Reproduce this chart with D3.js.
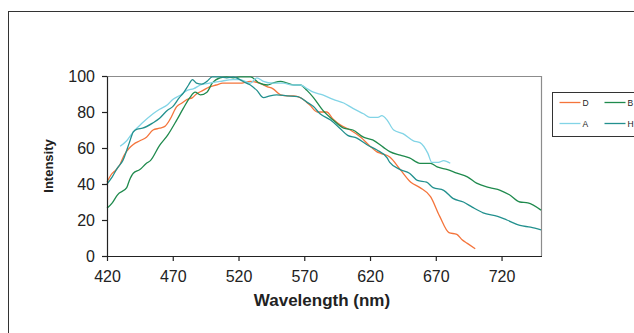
<!DOCTYPE html>
<html>
<head>
<meta charset="utf-8">
<script src="https://cdn.jsdelivr.net/npm/d3@7"></script>
<style>
  html, body { margin: 0; padding: 0; background: #fff; }
  svg { display: block; font-family: "Liberation Sans", Arial, sans-serif; }
</style>
</head>
<body>
<svg id="chart" width="634" height="333"></svg>
<script>
// Emission spectra: wavelength (nm) and relative intensity per sample
const seriesNames = ["D", "B", "A", "H"];
const seriesColors = ["#f4743b", "#1f8a4d", "#82d4e6", "#22908e"];

const wavelengthD = [420,423,427,430,433,437,440,445,450,455,460,464,468,473,477,481,485,488,493,498,503,508,515,521,529,536,542,546,552,557,562,567,574,580,587,592,597,605,613,620,625,628,635,643,651,658,666,673,680,686,690,694,700];
const intensityD  = [41,45,48,51,56,60,62,64,66,70,71,72,76,83,85,87,88,90,92,94,95,96,96,96,97,96,94,93,89.5,89,89,88,84,80,80,76,73,70,66,61,58,57,55,48,41,38,33,22,13,12,9,7,4];

const wavelengthB = [420,424,428,435,437,440,445,450,453,460,466,473,478,483,487,491,496,500,506,511,516,521,529,536,542,546,552,557,562,567,572,577,584,592,600,607,615,622,630,635,643,650,658,666,671,679,686,694,701,711,719,726,734,740,750];
const intensityB  = [26.5,29.5,34,38,42,46,48,51.5,53,61.5,67,75.5,82,88,91,89.5,91,96,99,99.5,99,99.5,99.5,96,95,96,97,96,95,95,92,88,81,75.5,71,70,66,64.5,60.5,58,56,54.5,51.5,51.5,49.5,48,46,44,40.5,38,36.5,34,30,29.5,25.5];

const wavelengthA = [430,435,440,447,455,460,466,470,475,481,486,491,498,506,516,521,529,534,539,546,554,561,567,572,577,584,592,600,607,615,620,626,629,633,638,645,653,658,664,667,672,676,681];
const intensityA  = [61,64,69,74,79,81.5,84,87,89,92,93,95,96,97,98,98,96,99,97,96,96,95,95,93,91,89.5,87,85,82,79,77,77,78,75.5,70,68,64,63,57,52,52,53,51.5];

const wavelengthH = [420,424,428,432,437,440,443,447,455,460,466,470,475,478,482,485,488,492,496,500,506,511,516,521,526,529,534,539,544,549,557,565,572,577,582,590,597,603,610,618,625,633,635,643,650,656,663,668,676,683,691,698,706,717,724,734,742,750];
const intensityH  = [40,44,49,53,63,69,70.5,71,74,76.5,81,83,88,90.5,95,98,96,95.5,97,99.5,99.5,99,99.5,98,96,95,92,88,89,89.5,89,88.5,85.5,83,79,75.5,71,67,65.5,61.7,59,54.5,52,48,46,42,41,38,36.5,32,30,27,24,22,20,17,16,14.5];

const xTicks = [420,470,520,570,620,670,720];
const yTicks = [0,20,40,60,80,100];

const seriesData = [
  { name: "D", x: wavelengthD, y: intensityD },
  { name: "B", x: wavelengthB, y: intensityB },
  { name: "A", x: wavelengthA, y: intensityA },
  { name: "H", x: wavelengthH, y: intensityH }
];

const svg = d3.select("#chart");
const plot = { left: 107, right: 541, top: 76, bottom: 256 };

const x = d3.scaleLinear().domain([420, 750]).range([plot.left, plot.right]);
const y = d3.scaleLinear().domain([0, 100]).range([plot.bottom, plot.top]);
const color = d3.scaleOrdinal().domain(seriesNames).range(seriesColors);

// Outer chart frame
svg.append("rect")
  .attr("x", 8.5).attr("y", 11.5)
  .attr("width", 700).attr("height", 400)
  .attr("fill", "none").attr("stroke", "#333").attr("stroke-width", 1);

// Plot area border (top and right in grey)
svg.append("path")
  .attr("d", `M${plot.left},${plot.top + 0.5}H${plot.right + 0.5}V${plot.bottom}`)
  .attr("fill", "none").attr("stroke", "#8c8c8c").attr("stroke-width", 1.2);

// Series lines
const line = d3.line()
  .x(d => x(d[0]))
  .y(d => y(d[1]))
  .curve(d3.curveMonotoneX);

svg.append("g").selectAll("path")
  .data(seriesData)
  .join("path")
  .attr("d", s => line(s.x.map((v, i) => [v, s.y[i]])))
  .attr("fill", "none")
  .attr("stroke", s => color(s.name))
  .attr("stroke-width", 1.3)
  .attr("stroke-linejoin", "round");

// Axes
const xAxis = d3.axisBottom(x).tickValues(xTicks).tickSize(5).tickSizeOuter(0).tickPadding(10);
const yAxis = d3.axisLeft(y).tickValues(yTicks).tickSize(5).tickSizeOuter(0).tickPadding(7);

const gx = svg.append("g").attr("transform", `translate(0,${plot.bottom})`).call(xAxis);
const gy = svg.append("g").attr("transform", `translate(${plot.left},0)`).call(yAxis);

[gx, gy].forEach(g => {
  g.select(".domain").attr("stroke", "#222").attr("stroke-width", 1.2);
  g.selectAll(".tick line").attr("stroke", "#222").attr("stroke-width", 1.2);
  g.selectAll(".tick text")
    .attr("fill", "#222")
    .style("font-family", "'Liberation Sans', Arial, sans-serif")
    .style("font-size", "16px");
});
gx.select(".domain").attr("d", `M${plot.left},0.5H${plot.right + 1}`);

// Axis titles
svg.append("text")
  .attr("x", 322).attr("y", 306)
  .attr("text-anchor", "middle")
  .style("font-size", "17px").style("font-weight", "bold")
  .attr("fill", "#222")
  .text("Wavelength (nm)");

svg.append("text")
  .attr("transform", "translate(53,166) rotate(-90)")
  .attr("text-anchor", "middle")
  .style("font-size", "13px").style("font-weight", "bold")
  .attr("fill", "#222")
  .text("Intensity");

// Legend
const legend = svg.append("g").attr("transform", "translate(552.5,92.5)");
legend.append("rect")
  .attr("width", 120).attr("height", 44)
  .attr("fill", "#fff").attr("stroke", "#333").attr("stroke-width", 1);

const items = legend.selectAll("g.item")
  .data(seriesNames)
  .join("g")
  .attr("class", "item")
  .attr("transform", (d, i) => `translate(${7 + (i % 2) * 45},${10 + Math.floor(i / 2) * 21})`);

items.append("line")
  .attr("x1", 0).attr("x2", 21)
  .attr("stroke", d => color(d)).attr("stroke-width", 1.3);

items.append("text")
  .attr("x", 23).attr("y", 3)
  .style("font-size", "8.5px")
  .attr("fill", "#222")
  .text(d => d);
</script>
</body>
</html>
